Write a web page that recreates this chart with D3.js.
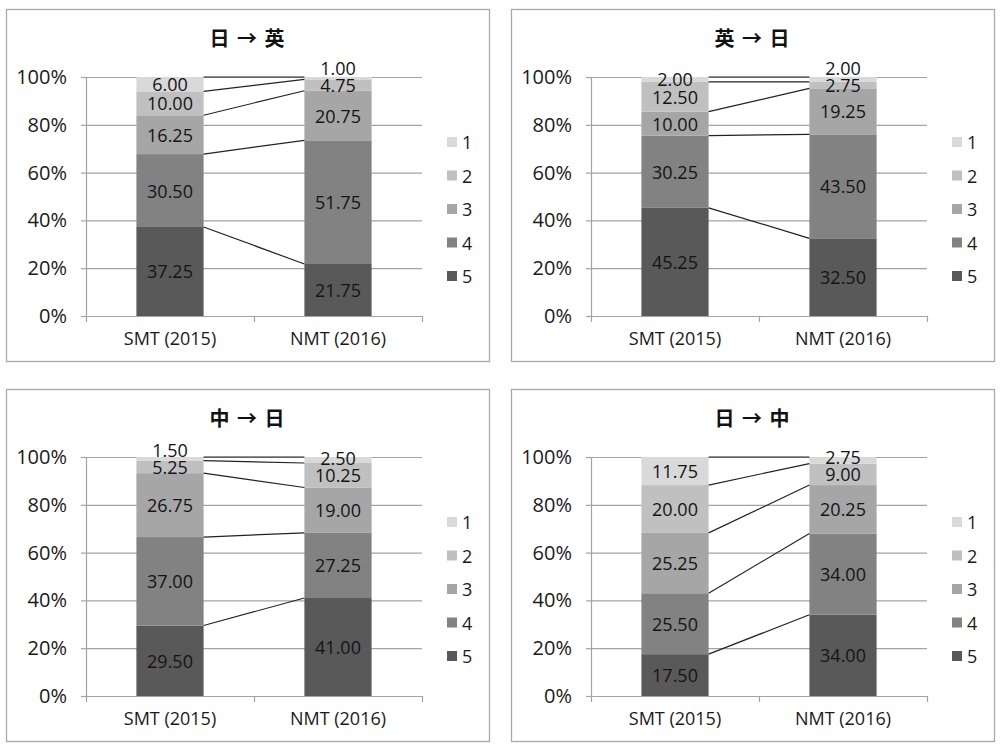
<!DOCTYPE html>
<html>
<head>
<meta charset="utf-8">
<script src="https://cdn.jsdelivr.net/npm/d3@7"></script>
<style>
  body { margin: 0; background: #fff; }
  svg { display: block; }
</style>
</head>
<body>
<div id="chart"></div>
<script>
const categories = ["SMT (2015)", "NMT (2016)"];
const levels = ["1", "2", "3", "4", "5"];
const levelColors = ["#d9d9d9", "#c0c0c0", "#a6a6a6", "#828282", "#595959"];
const titles = ["日 → 英", "英 → 日", "中 → 日", "日 → 中"];
const yTicks = [0, 0.2, 0.4, 0.6, 0.8, 1];

// values per level 1..5
const jaEnSMT = [6.00, 10.00, 16.25, 30.50, 37.25];
const jaEnNMT = [1.00, 4.75, 20.75, 51.75, 21.75];
const enJaSMT = [2.00, 12.50, 10.00, 30.25, 45.25];
const enJaNMT = [2.00, 2.75, 19.25, 43.50, 32.50];
const zhJaSMT = [1.50, 5.25, 26.75, 37.00, 29.50];
const zhJaNMT = [2.50, 10.25, 19.00, 27.25, 41.00];
const jaZhSMT = [11.75, 20.00, 25.25, 25.50, 17.50];
const jaZhNMT = [2.75, 9.00, 20.25, 34.00, 34.00];

const panelData = [
  [jaEnSMT, jaEnNMT],
  [enJaSMT, enJaNMT],
  [zhJaSMT, zhJaNMT],
  [jaZhSMT, jaZhNMT]
];

const W = 1000, H = 745;
const panelW = 483, panelH = 352;
const panelPos = [[6, 9], [511, 9], [6, 389], [511, 389]];
const plot = { left: 80, top: 68, w: 336, h: 239 };
const font = "'Open Sans', 'Liberation Sans', sans-serif";
const gridColor = "#a3a3a3";
const textColor = "#1a1a1a";

const svg = d3.select("#chart").append("svg")
  .attr("width", W)
  .attr("height", H);

svg.append("rect").attr("width", W).attr("height", H).attr("fill", "#fff");

const x = d3.scaleBand()
  .domain(categories)
  .range([0, plot.w])
  .paddingInner(0.6)
  .paddingOuter(0.3);

const xEdge = d3.scaleLinear().domain([0, categories.length]).range([0, plot.w]);

const y = d3.scaleLinear().domain([0, 1]).range([plot.h, 0]);

const colorOf = d3.scaleOrdinal().domain(levels).range(levelColors);

const stackKeys = levels.slice().reverse(); // 5 at the bottom

panelData.forEach((pair, pi) => {
  const [px, py] = panelPos[pi];
  const panel = svg.append("g").attr("transform", `translate(${px},${py})`);

  panel.append("rect")
    .attr("x", 0.5).attr("y", 0.5)
    .attr("width", panelW).attr("height", panelH)
    .attr("fill", "#fff")
    .attr("stroke", "#a8a8a8")
    .attr("stroke-width", 1.3);

  panel.append("text")
    .attr("x", 241)
    .attr("y", 28)
    .attr("text-anchor", "middle")
    .attr("dominant-baseline", "central")
    .style("font-family", "'Noto Sans CJK JP', sans-serif")
    .style("font-weight", "bold")
    .style("font-size", "20px")
    .style("word-spacing", "3px")
    .style("fill", "#111")
    .text(titles[pi]);

  const g = panel.append("g").attr("transform", `translate(${plot.left},${plot.top})`);

  const rows = categories.map((c, ci) => {
    const r = { cat: c };
    levels.forEach((l, li) => { r[l] = pair[ci][li]; });
    return r;
  });

  const stacked = d3.stack().keys(stackKeys).offset(d3.stackOffsetExpand)(rows);

  // grid
  g.append("g")
    .call(d3.axisLeft(y).tickValues(yTicks).tickSize(-plot.w).tickFormat(""))
    .call(s => s.select(".domain").remove())
    .selectAll("line")
    .attr("stroke", gridColor)
    .attr("stroke-width", 1.2);

  // y axis
  g.append("g")
    .call(d3.axisLeft(y).tickValues(yTicks).tickSize(5).tickPadding(14).tickFormat(d3.format(".0%")))
    .call(s => s.select(".domain").attr("stroke", gridColor).attr("stroke-width", 1.2))
    .call(s => s.selectAll("line").attr("stroke", gridColor).attr("stroke-width", 1.2))
    .selectAll("text")
    .style("font-family", font)
    .style("font-size", "20px")
    .style("fill", textColor);

  // bars
  const layers = g.append("g").selectAll("g")
    .data(stacked)
    .join("g")
    .attr("fill", d => colorOf(d.key));

  layers.selectAll("rect")
    .data(d => d)
    .join("rect")
    .attr("x", d => x(d.data.cat))
    .attr("y", d => y(d[1]))
    .attr("width", x.bandwidth())
    .attr("height", d => y(d[0]) - y(d[1]));

  // series lines
  g.append("g").selectAll("line")
    .data(stacked)
    .join("line")
    .attr("x1", x(categories[0]) + x.bandwidth())
    .attr("x2", x(categories[1]))
    .attr("y1", d => y(d[0][1]))
    .attr("y2", d => y(d[1][1]))
    .attr("stroke", "#222")
    .attr("stroke-width", 1.2);

  // x axis line with boundary ticks
  g.append("g")
    .attr("transform", `translate(0,${plot.h})`)
    .call(d3.axisBottom(xEdge).tickValues(d3.range(categories.length + 1)).tickSize(6).tickSizeOuter(0).tickFormat(""))
    .call(s => s.select(".domain").attr("stroke", gridColor).attr("stroke-width", 1.2))
    .selectAll("line")
    .attr("stroke", gridColor)
    .attr("stroke-width", 1.2);

  // category labels
  g.append("g")
    .attr("transform", `translate(0,${plot.h})`)
    .call(d3.axisBottom(x).tickSize(0).tickPadding(16))
    .call(s => s.select(".domain").remove())
    .selectAll("text")
    .style("font-family", font)
    .style("font-size", "18px")
    .style("fill", textColor);

  // data labels, bottom to top, nudged upward when crowded
  const labelGap = 17;
  categories.forEach((c, ci) => {
    let prev = Infinity;
    stacked.forEach(layer => {
      const d = layer[ci];
      const val = d.data[layer.key];
      const cy = Math.min(y((d[0] + d[1]) / 2), prev - labelGap);
      prev = cy;
      g.append("text")
        .attr("x", x(c) + x.bandwidth() / 2)
        .attr("y", cy)
        .attr("text-anchor", "middle")
        .attr("dominant-baseline", "central")
        .style("font-family", font)
        .style("font-size", "18px")
        .style("fill", "#141414")
        .text(d3.format(".2f")(val));
    });
  });

  // legend
  const ly = d3.scalePoint().domain(levels).range([133, 267]);
  const legend = panel.append("g").attr("transform", "translate(441,0)");
  levels.forEach(l => {
    legend.append("rect")
      .attr("x", 0)
      .attr("y", ly(l) - 5)
      .attr("width", 10)
      .attr("height", 10)
      .attr("fill", colorOf(l));
    legend.append("text")
      .attr("x", 15)
      .attr("y", ly(l))
      .attr("dominant-baseline", "central")
      .style("font-family", font)
      .style("font-size", "18px")
      .style("fill", textColor)
      .text(l);
  });
});
</script>
</body>
</html>
